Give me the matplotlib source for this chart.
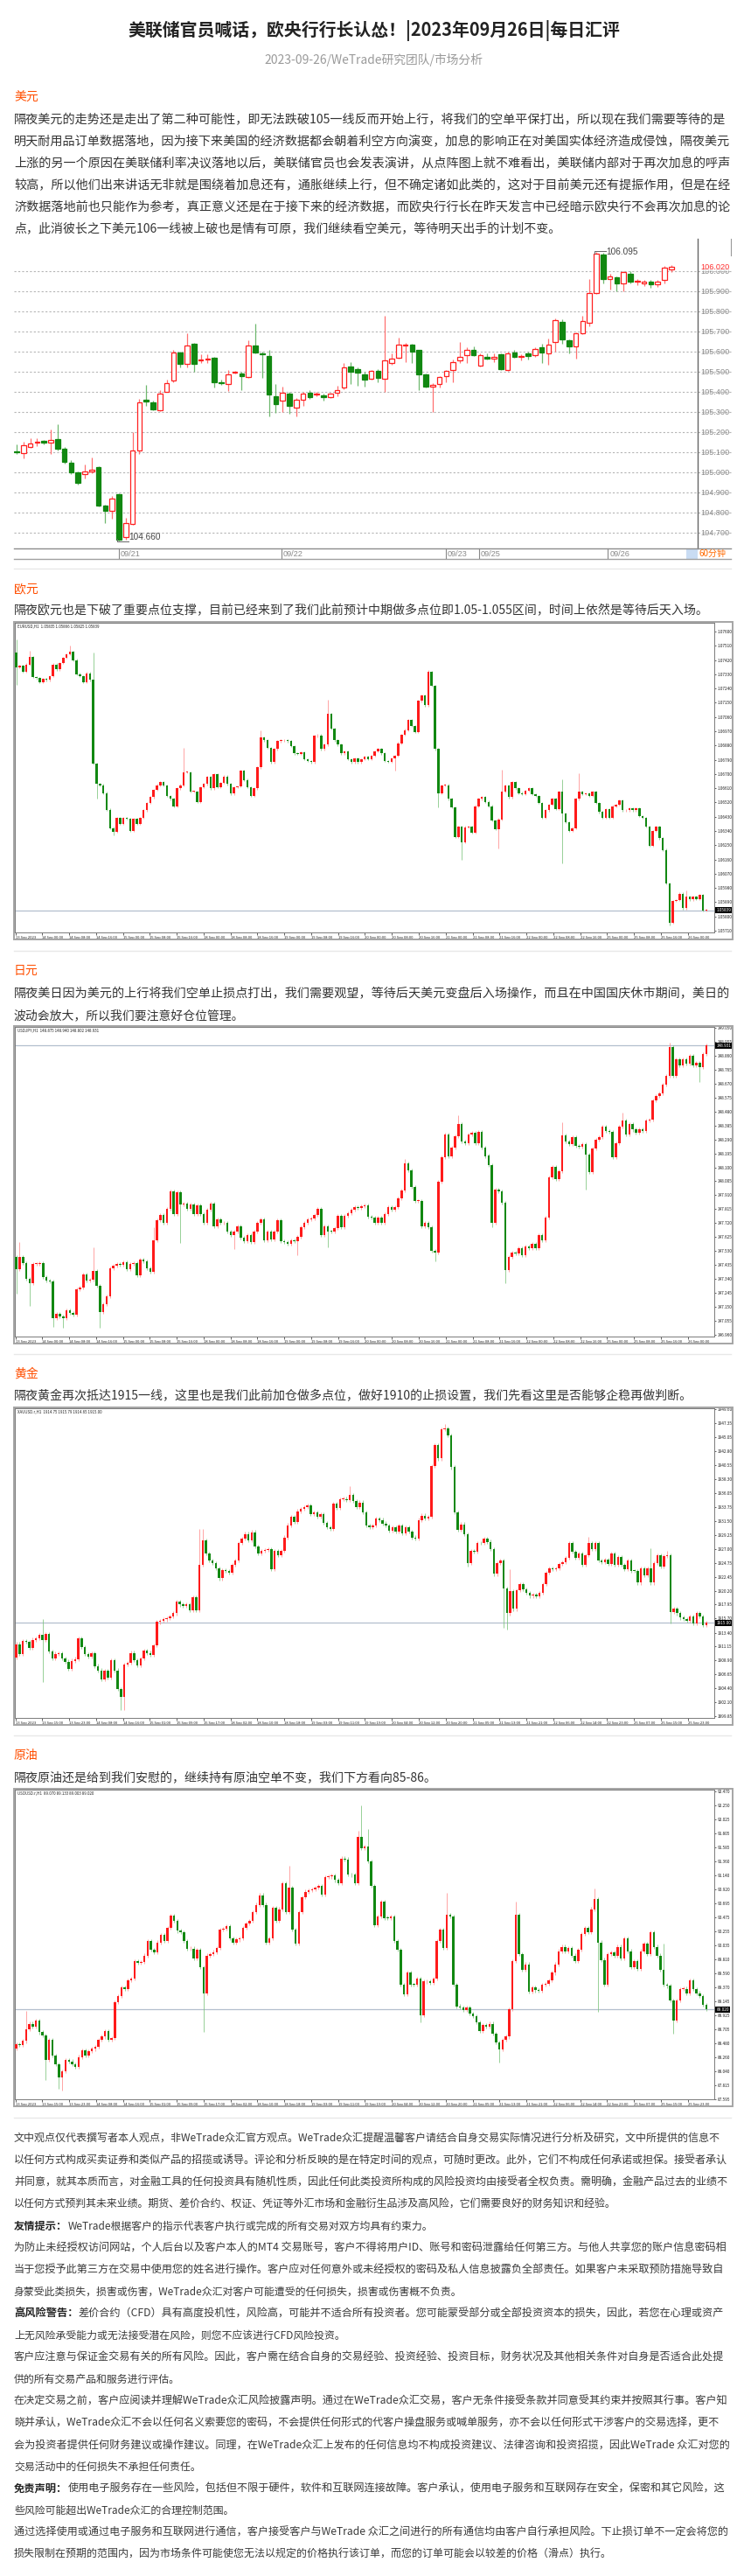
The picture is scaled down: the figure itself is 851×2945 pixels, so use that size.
import matplotlib
matplotlib.use('Agg')
import matplotlib.pyplot as plt
from matplotlib.patches import Rectangle
from matplotlib.lines import Line2D
from matplotlib.transforms import blended_transform_factory
import numpy as np

plt.rcParams['font.family'] = ['Noto Sans CJK SC', 'DejaVu Sans']
plt.rcParams['axes.unicode_minus'] = False

# ---------------------------------------------------------------- texts
title = "美联储官员喊话，欧央行行长认怂！|2023年09月26日|每日汇评"
subtitle = "2023-09-26/WeTrade研究团队/市场分析"

usd_head = "美元"
usd_lines = [
    "隔夜美元的走势还是走出了第二种可能性，即无法跌破105一线反而开始上行，将我们的空单平保打出，所以现在我们需要等待的是",
    "明天耐用品订单数据落地，因为接下来美国的经济数据都会朝着利空方向演变，加息的影响正在对美国实体经济造成侵蚀，隔夜美元",
    "上涨的另一个原因在美联储利率决议落地以后，美联储官员也会发表演讲，从点阵图上就不难看出，美联储内部对于再次加息的呼声",
    "较高，所以他们出来讲话无非就是围绕着加息还有，通胀继续上行，但不确定诸如此类的，这对于目前美元还有提振作用，但是在经",
    "济数据落地前也只能作为参考，真正意义还是在于接下来的经济数据，而欧央行行长在昨天发言中已经暗示欧央行不会再次加息的论",
    "点，此消彼长之下美元106一线被上破也是情有可原，我们继续看空美元，等待明天出手的计划不变。",
]
eur_head = "欧元"
eur_lines = ["隔夜欧元也是下破了重要点位支撑，目前已经来到了我们此前预计中期做多点位即1.05-1.055区间，时间上依然是等待后天入场。"]
jpy_head = "日元"
jpy_lines = [
    "隔夜美日因为美元的上行将我们空单止损点打出，我们需要观望，等待后天美元变盘后入场操作，而且在中国国庆休市期间，美日的",
    "波动会放大，所以我们要注意好仓位管理。",
]
gold_head = "黄金"
gold_lines = ["隔夜黄金再次抵达1915一线，这里也是我们此前加仓做多点位，做好1910的止损设置，我们先看这里是否能够企稳再做判断。"]
oil_head = "原油"
oil_lines = ["隔夜原油还是给到我们安慰的，继续持有原油空单不变，我们下方看向85-86。"]

disc_lines = [
    ("", "文中观点仅代表撰写者本人观点，非WeTrade众汇官方观点。WeTrade众汇提醒温馨客户请结合自身交易实际情况进行分析及研究，文中所提供的信息不"),
    ("", "以任何方式构成买卖证券和类似产品的招揽或诱导。评论和分析反映的是在特定时间的观点，可随时更改。此外，它们不构成任何承诺或担保。接受者承认"),
    ("", "并同意，就其本质而言，对金融工具的任何投资具有随机性质，因此任何此类投资所构成的风险投资均由接受者全权负责。需明确，金融产品过去的业绩不"),
    ("", "以任何方式预判其未来业绩。期货、差价合约、权证、凭证等外汇市场和金融衍生品涉及高风险，它们需要良好的财务知识和经验。"),
    ("友情提示：", "WeTrade根据客户的指示代表客户执行或完成的所有交易对双方均具有约束力。"),
    ("", "为防止未经授权访问网站，个人后台以及客户本人的MT4 交易账号，客户不得将用户ID、账号和密码泄露给任何第三方。与他人共享您的账户信息密码相"),
    ("", "当于您授予此第三方在交易中使用您的姓名进行操作。客户应对任何意外或未经授权的密码及私人信息披露负全部责任。如果客户未采取预防措施导致自"),
    ("", "身蒙受此类损失，损害或伤害，WeTrade众汇对客户可能遭受的任何损失，损害或伤害概不负责。"),
    ("高风险警告：", "差价合约（CFD）具有高度投机性，风险高，可能并不适合所有投资者。您可能蒙受部分或全部投资资本的损失，因此，若您在心理或资产"),
    ("", "上无风险承受能力或无法接受潜在风险，则您不应该进行CFD风险投资。"),
    ("", "客户应注意与保证金交易有关的所有风险。因此，客户需在结合自身的交易经验、投资经验、投资目标，财务状况及其他相关条件对自身是否适合此处提"),
    ("", "供的所有交易产品和服务进行评估。"),
    ("", "在决定交易之前，客户应阅读并理解WeTrade众汇风险披露声明。通过在WeTrade众汇交易，客户无条件接受条款并同意受其约束并按照其行事。客户知"),
    ("", "晓并承认，WeTrade众汇不会以任何名义索要您的密码，不会提供任何形式的代客户操盘服务或喊单服务，亦不会以任何形式干涉客户的交易选择，更不"),
    ("", "会为投资者提供任何财务建议或操作建议。同理，在WeTrade众汇上发布的任何信息均不构成投资建议、法律咨询和投资招揽，因此WeTrade 众汇对您的"),
    ("", "交易活动中的任何损失不承担任何责任。"),
    ("免责声明：", "使用电子服务存在一些风险，包括但不限于硬件，软件和互联网连接故障。客户承认，使用电子服务和互联网存在安全，保密和其它风险，这"),
    ("", "些风险可能超出WeTrade众汇的合理控制范围。"),
    ("", "通过选择使用或通过电子服务和互联网进行通信，客户接受客户与WeTrade 众汇之间进行的所有通信均由客户自行承担风险。下止损订单不一定会将您的"),
    ("", "损失限制在预期的范围内，因为市场条件可能使您无法以规定的价格执行该订单，而您的订单可能会以较差的价格（滑点）执行。"),
]

# ---------------------------------------------------------------- chart 1 data (US dollar index, 60 min)
usd_open = [105.105,105.097,105.125,105.148,105.155,105.148,105.165,105.118,105.050,105.000,104.990,105.005,105.025,104.835,104.810,104.890,104.680,104.745,105.110,105.362,105.350,105.310,105.400,105.455,105.598,105.540,105.640,105.555,105.563,105.570,105.450,105.440,105.495,105.490,105.473,105.630,105.592,105.580,105.380,105.355,105.390,105.320,105.360,105.395,105.388,105.383,105.372,105.395,105.420,105.525,105.515,105.485,105.465,105.505,105.465,105.545,105.570,105.630,105.636,105.607,105.488,105.425,105.440,105.480,105.510,105.556,105.582,105.607,105.532,105.575,105.567,105.585,105.510,105.596,105.575,105.592,105.583,105.620,105.593,105.646,105.749,105.655,105.625,105.690,105.745,105.890,106.083,105.960,105.970,105.938,105.988,105.950,105.940,105.950,105.936,105.955,106.010]
usd_close = [105.100,105.137,105.142,105.152,105.150,105.162,105.118,105.052,105.000,104.950,105.005,105.015,104.835,104.810,104.870,104.665,104.750,105.110,105.350,105.352,105.315,105.390,105.445,105.595,105.540,105.630,105.540,105.562,105.567,105.450,105.445,105.485,105.499,105.480,105.630,105.595,105.588,105.387,105.340,105.395,105.330,105.360,105.390,105.375,105.392,105.373,105.390,105.410,105.520,105.500,105.495,105.460,105.505,105.470,105.555,105.565,105.635,105.636,105.600,105.487,105.426,105.437,105.474,105.506,105.546,105.573,105.610,105.583,105.582,105.565,105.574,105.515,105.593,105.576,105.579,105.578,105.613,105.595,105.636,105.755,105.660,105.628,105.690,105.752,105.890,106.088,105.962,105.974,105.938,105.996,105.948,105.952,105.950,105.936,105.950,106.016,106.020]
usd_high = [105.14,105.152,105.17,105.17,105.16,105.215,105.24,105.125,105.06,105.005,105.04,105.075,105.03,104.84,104.885,104.895,104.775,105.20,105.365,105.435,105.355,105.41,105.46,105.61,105.60,105.69,105.645,105.585,105.587,105.575,105.46,105.51,105.505,105.50,105.655,105.74,105.60,105.608,105.44,105.425,105.40,105.37,105.40,105.41,105.40,105.39,105.395,105.43,105.545,105.55,105.52,105.50,105.51,105.515,105.777,105.59,105.67,105.645,105.64,105.61,105.49,105.445,105.48,105.51,105.56,105.65,105.62,105.625,105.59,105.59,105.59,105.59,105.60,105.61,105.585,105.60,105.62,105.64,105.665,105.765,105.76,105.66,105.695,105.78,105.96,106.095,106.09,105.985,105.975,106.00,106.00,105.96,105.955,105.955,105.955,106.025,106.03]
usd_low = [105.09,105.07,105.12,105.13,105.14,105.09,105.11,105.045,104.99,104.94,104.97,104.995,104.83,104.75,104.77,104.66,104.665,104.74,105.09,105.33,105.31,105.305,105.40,105.45,105.52,105.52,105.50,105.545,105.545,105.42,105.435,105.405,105.49,105.41,105.47,105.59,105.47,105.28,105.295,105.30,105.29,105.28,105.33,105.365,105.38,105.355,105.37,105.38,105.415,105.44,105.43,105.425,105.46,105.45,105.40,105.535,105.565,105.55,105.545,105.41,105.42,105.30,105.42,105.45,105.45,105.545,105.545,105.58,105.525,105.56,105.55,105.51,105.505,105.57,105.555,105.56,105.575,105.545,105.535,105.60,105.64,105.59,105.565,105.685,105.725,105.885,105.94,105.91,105.90,105.90,105.94,105.93,105.925,105.918,105.92,105.94,105.995]
usd_ticks = [104.7, 104.8, 104.9, 105.0, 105.1, 105.2, 105.3, 105.4, 105.5, 105.6, 105.7, 105.8, 105.9, 106.0]
usd_dates = ["09/21", "09/22", "09/23", "09/25", "09/26"]
usd_date_idx = [15, 38.8, 62.9, 67.8, 86.7]
usd_last = 106.020
usd_max, usd_max_i = 106.095, 85
usd_min, usd_min_i = 104.660, 15

# ---------------------------------------------------------------- MT4 charts data (H1 closes; open = previous close)
eur_open0 = 1.07465
eur_close = [1.07373,1.07382,1.07346,1.07392,1.07438,1.07312,1.07305,1.07281,1.07299,1.07294,
1.07318,1.07392,1.07360,1.07401,1.07434,1.07456,1.07471,1.07419,1.07331,1.07318,
1.07281,1.07336,1.07294,1.06765,1.06636,1.06630,1.06580,1.06475,1.06359,1.06335,
1.06424,1.06383,1.06424,1.06418,1.06341,1.06418,1.06383,1.06424,1.06470,1.06516,
1.06553,1.06599,1.06630,1.06648,1.06626,1.06562,1.06543,1.06497,1.06608,1.06630,
1.06709,1.06709,1.06589,1.06589,1.06525,1.06617,1.06636,1.06682,1.06608,1.06700,
1.06617,1.06645,1.06685,1.06636,1.06575,1.06617,1.06623,1.06719,1.06663,1.06617,
1.06562,1.06608,1.06741,1.06931,1.06912,1.06866,1.06774,1.06857,1.06907,1.06912,
1.06914,1.06907,1.06875,1.06829,1.06826,1.06838,1.06792,1.06783,1.06774,1.06940,
1.06944,1.06857,1.06885,1.07078,1.06986,1.06912,1.06885,1.06829,1.06844,1.06792,
1.06774,1.06796,1.06774,1.06792,1.06807,1.06792,1.06814,1.06844,1.06857,1.06829,
1.06783,1.06778,1.06796,1.06814,1.06894,1.06949,1.06977,1.07041,1.07004,1.06967,
1.07161,1.07194,1.07133,1.07346,1.07257,1.06857,1.06580,1.06626,1.06630,1.06543,
1.06488,1.06304,1.06368,1.06267,1.06364,1.06368,1.06331,1.06497,1.06543,1.06553,
1.06525,1.06497,1.06405,1.06350,1.06414,1.06589,1.06626,1.06553,1.06648,1.06608,
1.06580,1.06571,1.06593,1.06608,1.06571,1.06562,1.06516,1.06424,1.06470,1.06506,
1.06543,1.06479,1.06589,1.06451,1.06396,1.06340,1.06359,1.06543,1.06589,1.06571,
1.06575,1.06562,1.06589,1.06516,1.06460,1.06424,1.06479,1.06424,1.06497,1.06506,
1.06534,1.06470,1.06470,1.06484,1.06470,1.06484,1.06433,1.06424,1.06368,1.06248,
1.06340,1.06368,1.06294,1.06221,1.06009,1.05760,1.05898,1.05904,1.05944,1.05852,
1.05926,1.05907,1.05926,1.05911,1.05935,1.05837,1.05839]
eur_wicks = {0: (1.07548, 1.07263), 4: (1.07478, None), 16: (1.07511, None), 23: (1.07465, None),
             24: (None, 1.06543), 29: (None, 1.06313), 50: (1.06866, None), 73: (1.06977, None),
             93: (1.07170, None), 113: (None, 1.06719), 123: (1.07358, None), 126: (None, 1.06488),
             133: (None, 1.06156), 144: (None, 1.06230), 145: (1.06728, None), 163: (1.06667, 1.06138),
             168: (1.06705, None), 195: (None, 1.05745), 200: (1.05966, None)}
eur_ticks = ["1.07600","1.07510","1.07420","1.07330","1.07240","1.07150","1.07060","1.06970","1.06880","1.06790","1.06700",
             "1.06610","1.06520","1.06430","1.06340","1.06250","1.06160","1.06070","1.05980","1.05890","1.05800","1.05710"]
eur_header = "EURUSD,H1  1.05835 1.05866 1.05825 1.05839"

jpy_open0 = 147.490
jpy_close = [147.405,147.490,147.450,147.337,147.311,147.440,147.444,147.446,147.351,147.325,
147.321,147.072,147.102,147.082,147.072,147.126,147.106,147.098,147.271,147.281,
147.367,147.325,147.331,147.391,147.291,147.112,147.166,147.221,147.411,147.430,
147.444,147.436,147.456,147.405,147.444,147.450,147.361,147.470,147.460,147.411,
147.385,147.604,147.739,147.775,147.723,147.819,147.934,147.779,147.929,147.849,
147.851,147.819,147.849,147.779,147.843,147.779,147.719,147.809,147.855,147.699,
147.743,147.719,147.723,147.664,147.640,147.664,147.699,147.620,147.596,147.640,
147.590,147.660,147.719,147.743,147.604,147.660,147.610,147.664,147.739,147.596,
147.590,147.576,147.604,147.598,147.624,147.689,147.723,147.743,147.749,147.775,
147.819,147.640,147.699,147.664,147.662,147.683,147.769,147.689,147.769,147.789,
147.809,147.829,147.825,147.833,147.843,147.763,147.755,147.723,147.755,147.723,
147.779,147.829,147.809,147.829,147.889,147.942,148.128,148.078,147.968,147.869,
147.871,147.699,147.723,147.689,147.530,147.520,148.002,148.168,148.327,148.174,
148.237,148.311,148.397,148.277,148.267,148.327,148.337,148.267,148.341,148.237,
148.178,148.118,147.719,147.948,147.938,147.859,147.401,147.490,147.520,147.510,
147.550,147.500,147.560,147.550,147.580,147.550,147.636,147.600,147.759,148.034,
148.102,148.018,148.074,148.317,148.277,148.257,148.307,148.247,148.241,148.257,
148.187,148.068,148.227,148.287,148.307,148.377,148.347,148.341,148.168,148.267,
148.377,148.417,148.327,148.397,148.357,148.337,148.357,148.347,148.421,148.427,
148.556,148.586,148.606,148.666,148.725,148.919,148.725,148.835,148.795,148.839,
148.805,148.859,148.795,148.815,148.785,148.871,148.931]
jpy_wicks = {0: (None, 147.241), 1: (147.590, None), 4: (None, 147.152), 11: (None, 147.012),
             14: (None, 147.006), 23: (147.556, None), 25: (None, 147.006), 41: (147.689, None),
             49: (None, 147.584), 65: (None, 147.544), 84: (None, 147.500), 93: (None, 147.556),
             116: (148.158, None), 125: (None, 147.460), 132: (148.456, None), 142: (None, 147.689),
             146: (None, 147.311), 163: (148.407, None), 170: (None, 147.948), 181: (148.476, None),
             195: (148.950, None), 204: (None, 148.685)}
jpy_ticks = ["149.050","148.955","148.860","148.765","148.670","148.575","148.480","148.385","148.290","148.195","148.100","148.005",
             "147.910","147.815","147.720","147.625","147.530","147.435","147.340","147.245","147.150","147.055","146.960"]
jpy_header = "USDJPY,H1  148.875 148.940 148.802 148.931"

gold_open0 = 1909.42
gold_close = [1911.55,1909.99,1912.03,1911.89,1910.94,1912.26,1912.45,1912.98,1912.17,1913.12,
1910.37,1909.19,1909.99,1910.01,1909.19,1908.71,1907.53,1908.85,1909.14,1912.50,
1911.08,1909.89,1909.52,1910.08,1908.00,1907.29,1905.87,1907.24,1906.11,1908.95,
1907.29,1904.21,1903.02,1908.23,1908.47,1910.13,1908.95,1908.10,1909.19,1910.46,
1910.13,1909.80,1911.32,1915.11,1915.30,1915.53,1915.77,1916.05,1916.53,1918.42,
1917.95,1917.71,1917.95,1917.00,1919.13,1917.00,1924.35,1928.37,1926.24,1925.06,
1924.68,1923.87,1922.21,1923.54,1923.40,1923.16,1924.35,1925.06,1927.90,1928.61,
1929.42,1928.37,1929.70,1927.33,1926.24,1926.72,1926.81,1926.95,1923.64,1926.72,
1926.00,1926.72,1928.85,1930.84,1932.16,1931.31,1933.11,1933.49,1933.77,1934.06,
1932.64,1932.87,1932.16,1932.64,1931.22,1930.50,1930.27,1934.30,1933.59,1935.01,
1935.10,1934.91,1935.72,1934.77,1933.82,1934.53,1932.87,1930.74,1930.50,1930.74,
1931.93,1931.69,1931.12,1930.74,1929.89,1930.50,1929.79,1930.74,1929.56,1930.50,
1929.79,1928.85,1928.61,1931.69,1932.40,1931.93,1932.16,1940.46,1943.77,1941.64,
1946.38,1946.47,1945.43,1940.22,1932.87,1930.03,1930.98,1929.32,1924.68,1926.72,
1926.48,1927.99,1927.90,1928.61,1928.14,1926.95,1922.92,1924.68,1925.06,1920.56,
1916.53,1920.08,1917.24,1920.32,1921.27,1920.41,1919.85,1919.37,1919.61,1919.27,
1919.85,1921.27,1923.16,1923.87,1923.64,1923.82,1924.58,1924.82,1925.53,1927.90,
1926.48,1925.53,1926.24,1924.35,1926.00,1927.99,1926.95,1927.90,1925.06,1924.82,
1925.29,1924.58,1926.24,1924.35,1925.63,1924.35,1923.64,1925.06,1923.40,1923.38,
1921.50,1923.87,1922.69,1923.87,1921.50,1924.68,1926.00,1924.11,1925.77,1926.00,
1916.77,1917.24,1916.53,1915.82,1915.58,1915.34,1916.05,1914.87,1916.53,1916.05,
1914.63,1915.00]
gold_wicks = {8: (1915.58, 1905.39), 32: (None, 1900.89), 33: (None, 1900.80), 56: (1930.17, None),
              57: (1930.27, None), 102: (1937.14, None), 131: (1947.23, None), 138: (None, 1924.11),
              149: (None, 1914.15), 150: (None, 1913.92), 151: (1923.64, None), 175: (1928.94, None),
              194: (1927.05, None), 199: (1926.72, None), 200: (None, 1914.87)}
gold_ticks = ["1949.60","1947.35","1945.05","1942.80","1940.55","1938.30","1936.05","1933.75","1931.50","1929.25","1927.00","1924.75",
              "1922.45","1920.20","1917.95","1915.70","1913.40","1911.15","1908.90","1906.65","1904.40","1902.10","1899.85"]
gold_header = "XAUUSD.r,H1  1914.75 1915.79 1914.65 1915.00"

oil_open0 = 88.404
oil_close = [88.472,88.450,88.518,88.702,88.794,88.748,88.840,88.656,88.610,88.220,
88.541,88.289,88.151,87.944,88.036,88.220,88.197,88.151,88.105,88.266,
88.367,88.289,88.358,88.394,88.427,88.541,88.587,88.679,88.541,88.564,
89.129,89.231,89.368,89.345,89.484,89.507,89.782,89.759,89.773,89.874,
90.104,89.966,89.920,90.081,90.196,90.104,90.310,90.508,90.425,90.265,
90.242,90.104,89.975,89.984,89.828,89.966,89.690,89.277,89.874,89.897,
89.929,89.989,90.288,90.301,90.333,90.150,90.081,90.127,90.150,90.310,
90.379,90.425,90.563,90.678,90.830,90.678,90.081,90.150,90.632,90.425,
90.609,91.023,90.563,90.954,90.288,90.058,90.563,90.793,90.885,90.908,
90.922,90.954,90.977,90.839,91.115,91.124,91.138,91.069,91.023,91.413,
91.400,91.161,91.151,91.023,91.758,91.574,91.597,91.367,90.977,90.356,
90.494,90.724,90.471,90.462,90.494,90.104,89.966,89.414,89.254,89.598,
89.414,89.412,89.507,88.932,89.461,89.463,89.437,89.507,90.104,90.288,
89.989,90.517,90.494,89.414,89.070,89.047,89.010,89.047,88.955,88.909,
88.817,88.679,88.771,88.748,88.794,88.633,88.495,88.381,88.541,88.587,
89.024,89.782,90.517,89.897,89.644,89.736,89.300,89.368,89.322,89.313,
89.414,89.424,89.484,89.598,89.736,89.943,90.012,89.943,89.989,89.874,
89.782,89.966,90.219,90.310,90.242,90.609,90.770,90.081,89.805,89.414,
89.897,89.920,89.874,90.012,89.828,90.150,89.943,89.690,89.782,89.667,
89.943,90.058,89.897,90.242,90.012,89.874,89.644,89.414,89.392,89.162,
88.840,89.162,89.345,89.347,89.277,89.484,89.345,89.277,89.231,89.093,
89.020]
oil_wicks = {3: (89.001, None), 9: (None, 87.898), 13: (None, 87.760), 14: (None, 87.737),
             57: (None, 88.656), 83: (91.298, None), 104: (91.850, None), 105: (92.254, None),
             107: (91.873, None), 123: (None, 88.817), 131: (90.862, None), 147: (None, 88.174),
             152: (90.724, None), 176: (90.931, None), 177: (None, 88.978), 197: (90.067, None),
             200: (None, 88.633)}
oil_ticks = ["92.470","92.250","92.025","91.805","91.585","91.360","91.140","90.920","90.695","90.475","90.255","90.035",
             "89.810","89.590","89.370","89.145","88.925","88.705","88.480","88.260","88.040","87.815","87.595"]
oil_header = "USOUSD.r,H1  89.070 89.133 89.003 89.020"

fx_times = ["13 Sep 2023","14 Sep 00:00","14 Sep 08:00","14 Sep 16:00","15 Sep 00:00","15 Sep 08:00","15 Sep 16:00",
            "18 Sep 00:00","18 Sep 08:00","18 Sep 16:00","19 Sep 00:00","19 Sep 08:00","19 Sep 16:00","20 Sep 00:00",
            "20 Sep 08:00","20 Sep 16:00","21 Sep 00:00","21 Sep 08:00","21 Sep 16:00","22 Sep 00:00","22 Sep 08:00",
            "22 Sep 16:00","25 Sep 00:00","25 Sep 08:00","25 Sep 16:00","26 Sep 00:00"]
cfd_times = ["13 Sep 2023","13 Sep 15:00","13 Sep 23:00","14 Sep 08:00","14 Sep 16:00","15 Sep 01:00","15 Sep 09:00",
             "15 Sep 17:00","18 Sep 02:00","18 Sep 10:00","18 Sep 18:00","19 Sep 03:00","19 Sep 11:00","19 Sep 19:00",
             "20 Sep 04:00","20 Sep 12:00","20 Sep 20:00","21 Sep 05:00","21 Sep 13:00","21 Sep 21:00","22 Sep 06:00",
             "22 Sep 14:00","22 Sep 23:00","25 Sep 07:00","25 Sep 15:00","25 Sep 23:00"]

# ---------------------------------------------------------------- figure helpers
W, H = 851, 2945
fig = plt.figure(figsize=(W / 100, H / 100), dpi=100)
fig.patch.set_facecolor('white')
renderer = fig.canvas.get_renderer()

TEXT = '#333333'
HEAD = '#ff4e00'


def fx(x):
    return x / W


def fy(y):
    return 1 - y / H


def add_ax(x0, y0, x1, y1):
    return fig.add_axes([fx(x0), fy(y1), (x1 - x0) / W, (y1 - y0) / H])


def text_px(x, y, s, size, color=TEXT, weight='normal', ha='left', va='center'):
    return fig.text(fx(x), fy(y), s, fontsize=size, color=color, fontweight=weight, ha=ha, va=va)


def fit_line(x0, x1, y, s, size, color=TEXT, weight='normal'):
    t = text_px(x0, y, s, size, color, weight)
    if x1 is not None:
        w = t.get_window_extent(renderer).width
        if w > 0:
            k = min(max((x1 - x0) / w, 0.82), 1.18)
            t.set_fontsize(size * k)
    return t


def hline_px(y, x0=16, x1=836, color='#e8e8e8', lw=1.0):
    fig.add_artist(Line2D([fx(x0), fx(x1)], [fy(y), fy(y)], color=color, lw=lw,
                          transform=fig.transFigure))


def candles(ax, o, h, l, c, width, up_face, up_edge, up_wick, dn_face, dn_edge, dn_wick,
            wick_lw, edge_lw, min_h):
    o, h, l, c = (np.asarray(v, float) for v in (o, h, l, c))
    x = np.arange(len(c))
    up = c >= o
    ax.vlines(x[up], l[up], h[up], colors=up_wick, lw=wick_lw, zorder=2)
    ax.vlines(x[~up], l[~up], h[~up], colors=dn_wick, lw=wick_lw, zorder=2)
    bot = np.minimum(o, c)
    ht = np.maximum(np.abs(c - o), min_h)
    ax.bar(x[up], ht[up], width, bottom=bot[up], color=up_face, edgecolor=up_edge,
           linewidth=edge_lw, zorder=3)
    ax.bar(x[~up], ht[~up], width, bottom=bot[~up], color=dn_face, edgecolor=dn_edge,
           linewidth=edge_lw, zorder=3)


def mt4_ohlc(open0, closes, wicks, dw):
    c = np.array(closes, float)
    o = np.concatenate([[open0], c[:-1]])
    h = np.maximum(o, c) + dw
    l = np.minimum(o, c) - dw
    for i, (hi, lo) in wicks.items():
        if i < len(c):
            if hi is not None:
                h[i] = max(h[i], hi)
            if lo is not None:
                l[i] = min(l[i], lo)
    return o, h, l, c


def mt4_chart(top, open0, closes, wicks, dw, ylim, tick_labels, times, header):
    frame = (16, top - 1, 838, top + 362)
    fig.add_artist(Rectangle((fx(frame[0]), fy(frame[3])), (frame[2] - frame[0]) / W,
                             (frame[3] - frame[1]) / H, transform=fig.transFigure,
                             fill=False, edgecolor='#a5a5a5', lw=1.4))
    ax = add_ax(17, top, 817, top + 354)
    o, h, l, c = mt4_ohlc(open0, closes, wicks, dw)
    n = len(c)
    span = (n - 1) / 0.9867
    left = -0.002 * span
    ax.set_xlim(left, left + span)
    ax.set_ylim(*ylim)
    pxv = (ylim[1] - ylim[0]) / 354.0
    candles(ax, o, h, l, c, 0.66, '#ff1a1a', '#ff1a1a', '#ff8c8c', '#118811', '#118811',
            '#7cc47c', 0.55, 0.0, pxv * 0.8)
    ax.axhline(c[-1], color='#b3bfce', lw=0.9, zorder=1)
    ax.yaxis.tick_right()
    ax.set_yticks([float(v) for v in tick_labels])
    ax.set_yticklabels(tick_labels, fontsize=3.4)
    ax.tick_params(axis='y', length=1.5, width=0.5, pad=1, colors='#222222')
    fr = [(1 + 57.8 * k) / 1503.0 for k in range(len(times))]
    ax.set_xticks([left + f * span for f in fr])
    ax.set_xticklabels(times, fontsize=3.0, ha='left')
    ax.tick_params(axis='x', length=2, width=0.5, pad=1, colors='#222222')
    for s in ax.spines.values():
        s.set_color('#7a7a7a')
        s.set_linewidth(0.7)
    ax.text(0.004, 0.993, header, transform=ax.transAxes, fontsize=3.2, va='top', ha='left',
            color='#222222')
    last = closes[-1]
    lab = tick_labels[0]
    dec = len(lab.split('.')[1])
    ax.text(1.003, last, f"{last:.{dec}f}", transform=ax.get_yaxis_transform(), fontsize=3.4,
            color='white', va='center', ha='left', clip_on=False, zorder=10,
            bbox=dict(boxstyle='square,pad=0.2', fc='black', ec='none'))
    return ax


# ---------------------------------------------------------------- header
fit_line(146, 711, 35, title, 15, '#222222', 'bold')
fit_line(302, 552, 68, subtitle, 10, '#9a9a9a')

BODY = 10.0
# ---------------------------------------------------------------- US dollar section
text_px(16, 112, usd_head, BODY, HEAD)
usd_ends = [828, 833, 833, 833, 833, 639]
for k, (s, e) in enumerate(zip(usd_lines, usd_ends)):
    fit_line(16, e, 137 + 25 * k, s, BODY)

ax1 = add_ax(16, 273, 798, 627)
n1 = min(len(usd_open), len(usd_close), len(usd_high), len(usd_low))
ax1.set_xlim(-0.385, 99.87)
ax1.set_ylim(104.622, 106.161)
for v in usd_ticks:
    ax1.plot([0, 1.0486], [v, v], transform=ax1.get_yaxis_transform(), ls=(0, (2, 2)),
             color='#b5b5b5', lw=0.8, clip_on=False, zorder=1)
candles(ax1, usd_open[:n1], usd_high[:n1], usd_low[:n1], usd_close[:n1], 0.7,
        'white', '#ff2020', '#ff7070', '#118811', '#118811', '#6fb86f', 0.9, 0.9, 0.004)
for s in ('top', 'left', 'bottom'):
    ax1.spines[s].set_visible(False)
ax1.spines['right'].set_color('#666666')
ax1.spines['right'].set_linewidth(1.0)
ax1.set_xticks([])
ax1.set_yticks([])
for v in usd_ticks:
    ax1.text(1.004, v, f"{v:.3f}", transform=ax1.get_yaxis_transform(), fontsize=6.6,
             color='#8a8a8a', va='center', ha='left', clip_on=False, family='Liberation Sans')
ax1.text(1.004, usd_last, f"{usd_last:.3f}", transform=ax1.get_yaxis_transform(), fontsize=6.6,
         color='#ff3030', va='center', ha='left', clip_on=False, family='Liberation Sans',
         zorder=6, bbox=dict(boxstyle='square,pad=0.05', fc='white', ec='none', alpha=0.6))
ax1.plot([usd_max_i - 0.3, usd_max_i - 0.3, usd_max_i + 1.35], [usd_max - 0.01, usd_max + 0.004, usd_max + 0.004],
         color='#666666', lw=0.7, zorder=5)
ax1.text(usd_max_i + 1.45, usd_max + 0.002, f"{usd_max:.3f}", fontsize=7.2, color='#444444',
         va='center', ha='left', family='Liberation Sans')
ax1.plot([usd_min_i - 0.3, usd_min_i - 0.3, usd_min_i + 1.35], [usd_min + 0.01, usd_min - 0.002, usd_min - 0.002],
         color='#666666', lw=0.7, zorder=5)
ax1.text(usd_min_i + 1.45, usd_min + 0.02, f"{usd_min:.3f}", fontsize=7.2, color='#444444',
         va='center', ha='left', family='Liberation Sans')
trans = blended_transform_factory(ax1.transData, ax1.transAxes)
for pos, lab in zip(usd_date_idx, usd_dates):
    ax1.plot([pos, pos], [0, -0.031], transform=trans, color='#888888', lw=0.8, clip_on=False)
    ax1.text(pos + 0.25, -0.017, lab, transform=trans, fontsize=6.6, color='#8a8a8a',
             va='center', ha='left', clip_on=False, family='Liberation Sans')
hline_px(627, 16, 836, '#8c8c8c', 1.0)
hline_px(639, 16, 836, '#a0a0a0', 1.0)
fig.add_artist(Line2D([fx(836), fx(836)], [fy(273), fy(292)], color='#999999', lw=0.8,
                      transform=fig.transFigure))
fig.add_artist(Rectangle((fx(785), fy(639)), 13 / W, 12 / H, transform=fig.transFigure,
                         facecolor='#c9dcf3', edgecolor='none'))
text_px(800, 633, "60分钟", 7.2, '#ff6a00')

# ---------------------------------------------------------------- EUR
hline_px(650)
text_px(16, 673, eur_head, BODY, HEAD)
fit_line(16, 809, 698, eur_lines[0], BODY)
mt4_chart(712, eur_open0, eur_close, eur_wicks, 0.00007, (1.05699, 1.07655), eur_ticks, fx_times, eur_header)

# ---------------------------------------------------------------- JPY
hline_px(1087)
text_px(16, 1110, jpy_head, BODY, HEAD)
fit_line(16, 833, 1136, jpy_lines[0], BODY)
fit_line(16, 279, 1161, jpy_lines[1], BODY)
mt4_chart(1174, jpy_open0, jpy_close, jpy_wicks, 0.012, (146.946, 149.058), jpy_ticks, fx_times, jpy_header)

# ---------------------------------------------------------------- Gold
hline_px(1548)
text_px(16, 1571, gold_head, BODY, HEAD)
fit_line(16, 791, 1596, gold_lines[0], BODY)
mt4_chart(1610, gold_open0, gold_close, gold_wicks, 0.3, (1899.57, 1949.79), gold_ticks, cfd_times, gold_header)

# ---------------------------------------------------------------- Oil
hline_px(1984)
text_px(16, 2007, oil_head, BODY, HEAD)
fit_line(16, 500, 2033, oil_lines[0], BODY)
mt4_chart(2046, oil_open0, oil_close, oil_wicks, 0.03, (87.622, 92.502), oil_ticks, cfd_times, oil_header)

# ---------------------------------------------------------------- disclaimer
hline_px(2421)
disc_ends = [828, 837, 837, 710, 495, 832, 832, 530, 830, 396, 828, 207, 833, 828, 833, 230, 830, 268, 833, 700]
DS = 8.8
for k, ((pre, rest), e) in enumerate(zip(disc_lines, disc_ends)):
    y = 2445 + 25 * k
    x0 = 16
    if pre:
        t = text_px(x0, y, pre, DS, '#222222', 'bold')
        x0 = 16 + t.get_window_extent(renderer).width
    fit_line(x0, e, y, rest, DS, '#3a3a3a')

fig.savefig('out.png', dpi=100, facecolor='white')
